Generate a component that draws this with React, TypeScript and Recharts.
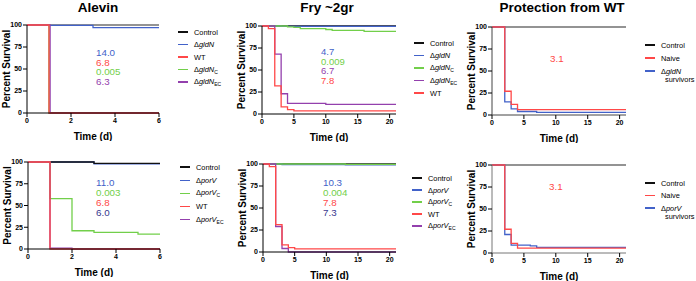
import { LineChart, Line, XAxis, YAxis, Label } from "recharts";

const BLACK = "#111111";
const GRAY = "#6f6f6f";
const BLUE = "#4262c9";
const RED = "#ff4848";
const GREEN = "#72cf4a";
const PURPLE = "#9340ad";
const NAVY = "#38388f";

const yTicks = [0, 25, 50, 75, 100];
const alevinTicks = [0, 2, 4, 6];
const fryTicks = [0, 5, 10, 15, 20];

// Alevin, gldN
const alevinGldnDays = [0, 1, 1.05, 3, 6];
const alevinGldnNames = ["Control", "ΔgldN", "WT", "ΔgldN_C", "ΔgldN_EC"];
const alevinGldnControl = [100, 100, 100, 100, 100];
const alevinGldnMutant = [100, 99.5, 99.5, 97, 97];
const alevinGldnWT = [100, 0, 0, 0, 0];
const alevinGldnC = [100, 0, 0, 0, 0];
const alevinGldnEC = [100, 100, 0, 0, 0];
const alevinGldnStats = ["14.0", "6.8", "0.005", "6.3"];

// Fry, gldN
const fryGldnDays = [0, 1, 2, 3, 4, 5, 6, 10, 11, 16, 21];
const fryGldnNames = ["Control", "ΔgldN", "ΔgldN_C", "ΔgldN_EC", "WT"];
const fryGldnControl = [100, 100, 100, 100, 100, 100, 100, 100, 100, 100, 100];
const fryGldnMutant = [100, 100, 100, 99.5, 99.5, 99.5, 99.5, 99.5, 99.5, 99.5, 99.5];
const fryGldnC = [100, 100, 100, 100, 99, 98.5, 97, 96, 95, 94, 94];
const fryGldnEC = [100, 100, 68, 23, 12, 12, 12, 11, 11, 11, 11];
const fryGldnWT = [100, 97, 32, 8, 5, 3.5, 3.5, 3.5, 3.5, 3.5, 3.5];
const fryGldnStats = ["4.7", "0.009", "6.7", "7.8"];

// Protection, gldN survivors
const protGldnDays = [0, 2, 3, 4, 7, 21];
const protGldnNames = ["Control", "Naive", "ΔgldN\nsurvivors"];
const protGldnControl = [100, 100, 100, 100, 100, 100];
const protGldnNaive = [100, 27, 12, 6, 6, 6];
const protGldnSurvivors = [100, 15, 7, 4, 3, 3];
const protGldnStats = ["3.1"];

// Alevin, porV
const alevinPorvDays = [0, 1, 2, 3, 5, 6];
const alevinPorvNames = ["Control", "ΔporV", "ΔporV_C", "WT", "ΔporV_EC"];
const alevinPorvControl = [100, 100, 100, 98.4, 98.4, 98.4];
const alevinPorvMutant = [100, 100, 100, 97.8, 97.8, 97.8];
const alevinPorvC = [100, 58, 21, 19, 17, 17];
const alevinPorvWT = [100, 0, 0, 0, 0, 0];
const alevinPorvEC = [100, 1, 0, 0, 0, 0];
const alevinPorvStats = ["11.0", "0.003", "6.8", "6.0"];

// Fry, porV
const fryPorvDays = [0, 1, 2, 3, 4, 5, 13, 21];
const fryPorvNames = ["Control", "ΔporV", "ΔporV_C", "WT", "ΔporV_EC"];
const fryPorvControl = [100, 100, 100, 100, 100, 100, 100, 100];
const fryPorvMutant = [100, 100, 100, 99.3, 99.3, 99.3, 99, 99];
const fryPorvC = [100, 100, 100, 100, 100, 100, 99.6, 99.6];
const fryPorvWT = [100, 97, 31, 8, 5, 3.5, 3.5, 3.5];
const fryPorvEC = [100, 100, 29, 4, 0, 0, 0, 0];
const fryPorvStats = ["10.3", "0.004", "7.8", "7.3"];

// Protection, porV survivors
const protPorvDays = [0, 2, 3, 4, 6, 7, 21];
const protPorvNames = ["Control", "Naive", "ΔporV\nsurvivors"];
const protPorvControl = [100, 100, 100, 100, 100, 100, 100];
const protPorvNaive = [100, 27, 11, 5.5, 5.5, 5.5, 5.5];
const protPorvSurvivors = [100, 21, 9, 9, 8, 6.5, 6.5];
const protPorvStats = ["3.1"];

const FONT = "'Liberation Sans', Arial, Helvetica, sans-serif";

function renderYLabel(props: any) {
  const vb = props.viewBox || {};
  const cx = (vb.x || 0) + 6;
  const cy = (vb.y || 0) + (vb.height || 0) / 2;
  return (
    <text
      x={cx}
      y={cy}
      transform={`rotate(-90 ${cx} ${cy})`}
      textAnchor="middle"
      dominantBaseline="central"
      fontSize={10}
      fontWeight="bold"
      fill="#000"
      fontFamily={FONT}
    >
      Percent Survival
    </text>
  );
}

function SeriesName({ name }: { name: string }) {
  const [main, extra] = name.split("\n");
  let body: any = main;
  if (main.startsWith("Δ")) {
    const [gene, sub] = main.slice(1).split("_");
    body = (
      <>
        Δ<i>{gene}</i>
        {sub && <sub style={{ fontSize: 5, verticalAlign: "-2px" }}>{sub}</sub>}
      </>
    );
  }
  return (
    <span>
      {body}
      {extra && (
        <span style={{ position: "absolute", left: 4, top: 8, whiteSpace: "nowrap" }}>{extra}</span>
      )}
    </span>
  );
}

function SurvivalPanel(p: {
  x0: number;
  y0: number;
  w: number;
  h: number;
  xMax: number;
  xTicks: number[];
  days: number[];
  values: number[][];
  colors: string[];
  order: number[];
  axis?: string;
}) {
  const rows = p.days.map((d, i) => {
    const r: any = { day: d };
    p.values.forEach((v, k) => (r[`s${k}`] = v[i]));
    return r;
  });
  const axis = p.axis || "#000";
  return (
    <div style={{ position: "absolute", left: p.x0 - 27, top: p.y0 - 6 }}>
      <LineChart
        width={p.w + 33}
        height={p.h + 34}
        data={rows}
        margin={{ top: 6, right: 6, left: 0, bottom: 0 }}
      >
        <XAxis
          dataKey="day"
          type="number"
          domain={[0, p.xMax]}
          ticks={p.xTicks}
          interval={0}
          allowDataOverflow
          height={28}
          tickSize={4}
          tickMargin={1}
          stroke={axis}
          tickLine={{ stroke: "#000" }}
          tick={{ fontSize: 7, fontWeight: 700, fill: "#000", fontFamily: FONT }}
        >
          <Label
            value="Time (d)"
            position="insideBottom"
            offset={1}
            fontSize={10}
            fontWeight="bold"
            fill="#000"
            fontFamily={FONT}
          />
        </XAxis>
        <YAxis
          type="number"
          domain={[0, 100]}
          ticks={yTicks}
          interval={0}
          width={27}
          tickSize={4}
          tickMargin={1}
          stroke={axis}
          tickLine={{ stroke: "#000" }}
          tick={{ fontSize: 7, fontWeight: 700, fill: "#000", fontFamily: FONT }}
        >
          <Label content={renderYLabel} />
        </YAxis>
        {p.order.map((k) => (
          <Line
            key={k}
            type="stepAfter"
            dataKey={`s${k}`}
            stroke={p.colors[k]}
            strokeWidth={1.3}
            dot={false}
            activeDot={false}
            isAnimationActive={false}
          />
        ))}
      </LineChart>
    </div>
  );
}

function Legend({ x, y, names, colors, step = 12.5 }: { x: number; y: number; names: string[]; colors: string[]; step?: number }) {
  return (
    <>
      {names.map((n, i) => (
        <div
          key={n}
          style={{
            position: "absolute",
            left: x,
            top: y + i * step - 5,
            height: 10,
            display: "flex",
            alignItems: "center",
            fontSize: 7.4,
            fontFamily: FONT,
            color: "#000",
            whiteSpace: "nowrap",
          }}
        >
          <span style={{ display: "inline-block", width: 10, height: 1.2, background: colors[i], marginRight: 6 }} />
          <span style={{ position: "relative" }}>
            <SeriesName name={n} />
          </span>
        </div>
      ))}
    </>
  );
}

function Stats({ x, y, labels, colors, step = 9.6, size = 9.8 }: { x: number; y: number; labels: string[]; colors: string[]; step?: number; size?: number }) {
  return (
    <>
      {labels.map((t, i) => (
        <div
          key={i}
          style={{
            position: "absolute",
            left: x,
            top: y + i * step - step / 2,
            height: step,
            lineHeight: `${step}px`,
            fontSize: size,
            fontFamily: FONT,
            color: colors[i],
          }}
        >
          {t}
        </div>
      ))}
    </>
  );
}

function Title({ cx, text }: { cx: number; text: string }) {
  return (
    <div
      style={{
        position: "absolute",
        left: cx - 100,
        width: 200,
        top: 0,
        textAlign: "center",
        fontSize: 13.5,
        fontWeight: 700,
        lineHeight: "16px",
        fontFamily: FONT,
        color: "#000",
      }}
    >
      {text}
    </div>
  );
}

export default function App() {
  return (
    <div style={{ position: "absolute", left: 0, top: 0, width: 696, height: 281, background: "#fff", overflow: "hidden" }}>
      <Title cx={98} text="Alevin" />
      <Title cx={327} text="Fry ~2gr" />
      <Title cx={562} text="Protection from WT" />

      <SurvivalPanel
        x0={27} y0={25} w={132} h={88} xMax={6} xTicks={alevinTicks}
        days={alevinGldnDays}
        values={[alevinGldnControl, alevinGldnMutant, alevinGldnWT, alevinGldnC, alevinGldnEC]}
        colors={[GRAY, BLUE, RED, GREEN, PURPLE]}
        order={[0, 1, 3, 4, 2]}
      />
      <Legend x={178} y={32} names={alevinGldnNames} colors={[BLACK, BLUE, RED, GREEN, PURPLE]} />
      <Stats x={96} y={53} labels={alevinGldnStats} colors={[BLUE, RED, GREEN, PURPLE]} />

      <SurvivalPanel
        x0={262} y0={26} w={134} h={88} xMax={21} xTicks={fryTicks}
        days={fryGldnDays}
        values={[fryGldnControl, fryGldnMutant, fryGldnC, fryGldnEC, fryGldnWT]}
        colors={[BLACK, BLUE, GREEN, PURPLE, RED]}
        order={[0, 1, 2, 3, 4]}
      />
      <Legend x={414} y={43} names={fryGldnNames} colors={[BLACK, BLUE, GREEN, PURPLE, RED]} />
      <Stats x={321} y={52} labels={fryGldnStats} colors={[BLUE, GREEN, PURPLE, RED]} step={9.5} size={9.5} />

      <SurvivalPanel
        x0={492} y0={27} w={134} h={88} xMax={21} xTicks={fryTicks}
        days={protGldnDays}
        values={[protGldnControl, protGldnNaive, protGldnSurvivors]}
        colors={[GRAY, RED, BLUE]}
        order={[0, 2, 1]}
        axis="#444"
      />
      <Legend x={645} y={45} names={protGldnNames} colors={[BLACK, RED, BLUE]} step={13} />
      <Stats x={550} y={59} labels={protGldnStats} colors={[RED]} />

      <SurvivalPanel
        x0={28} y0={162} w={132} h={87} xMax={6} xTicks={alevinTicks}
        days={alevinPorvDays}
        values={[alevinPorvControl, alevinPorvMutant, alevinPorvC, alevinPorvWT, alevinPorvEC]}
        colors={[BLACK, BLUE, GREEN, RED, PURPLE]}
        order={[1, 0, 2, 4, 3]}
      />
      <Legend x={180} y={167} names={alevinPorvNames} colors={[BLACK, BLUE, GREEN, RED, PURPLE]} step={13.2} />
      <Stats x={96} y={183} labels={alevinPorvStats} colors={[BLUE, GREEN, RED, NAVY]} step={10} />

      <SurvivalPanel
        x0={263} y0={164} w={133} h={88} xMax={21} xTicks={fryTicks}
        days={fryPorvDays}
        values={[fryPorvControl, fryPorvMutant, fryPorvC, fryPorvWT, fryPorvEC]}
        colors={[BLACK, BLUE, GREEN, RED, PURPLE]}
        order={[0, 1, 2, 4, 3]}
      />
      <Legend x={412} y={178} names={fryPorvNames} colors={[BLACK, BLUE, GREEN, RED, PURPLE]} step={12} />
      <Stats x={323} y={183} labels={fryPorvStats} colors={[BLUE, GREEN, RED, NAVY]} step={10} />

      <SurvivalPanel
        x0={492} y0={165} w={134} h={88} xMax={21} xTicks={fryTicks}
        days={protPorvDays}
        values={[protPorvControl, protPorvNaive, protPorvSurvivors]}
        colors={[GRAY, RED, BLUE]}
        order={[0, 2, 1]}
        axis="#777"
      />
      <Legend x={645} y={183} names={protPorvNames} colors={[BLACK, RED, BLUE]} step={12.5} />
      <Stats x={549} y={187} labels={protPorvStats} colors={[RED]} />
    </div>
  );
}
